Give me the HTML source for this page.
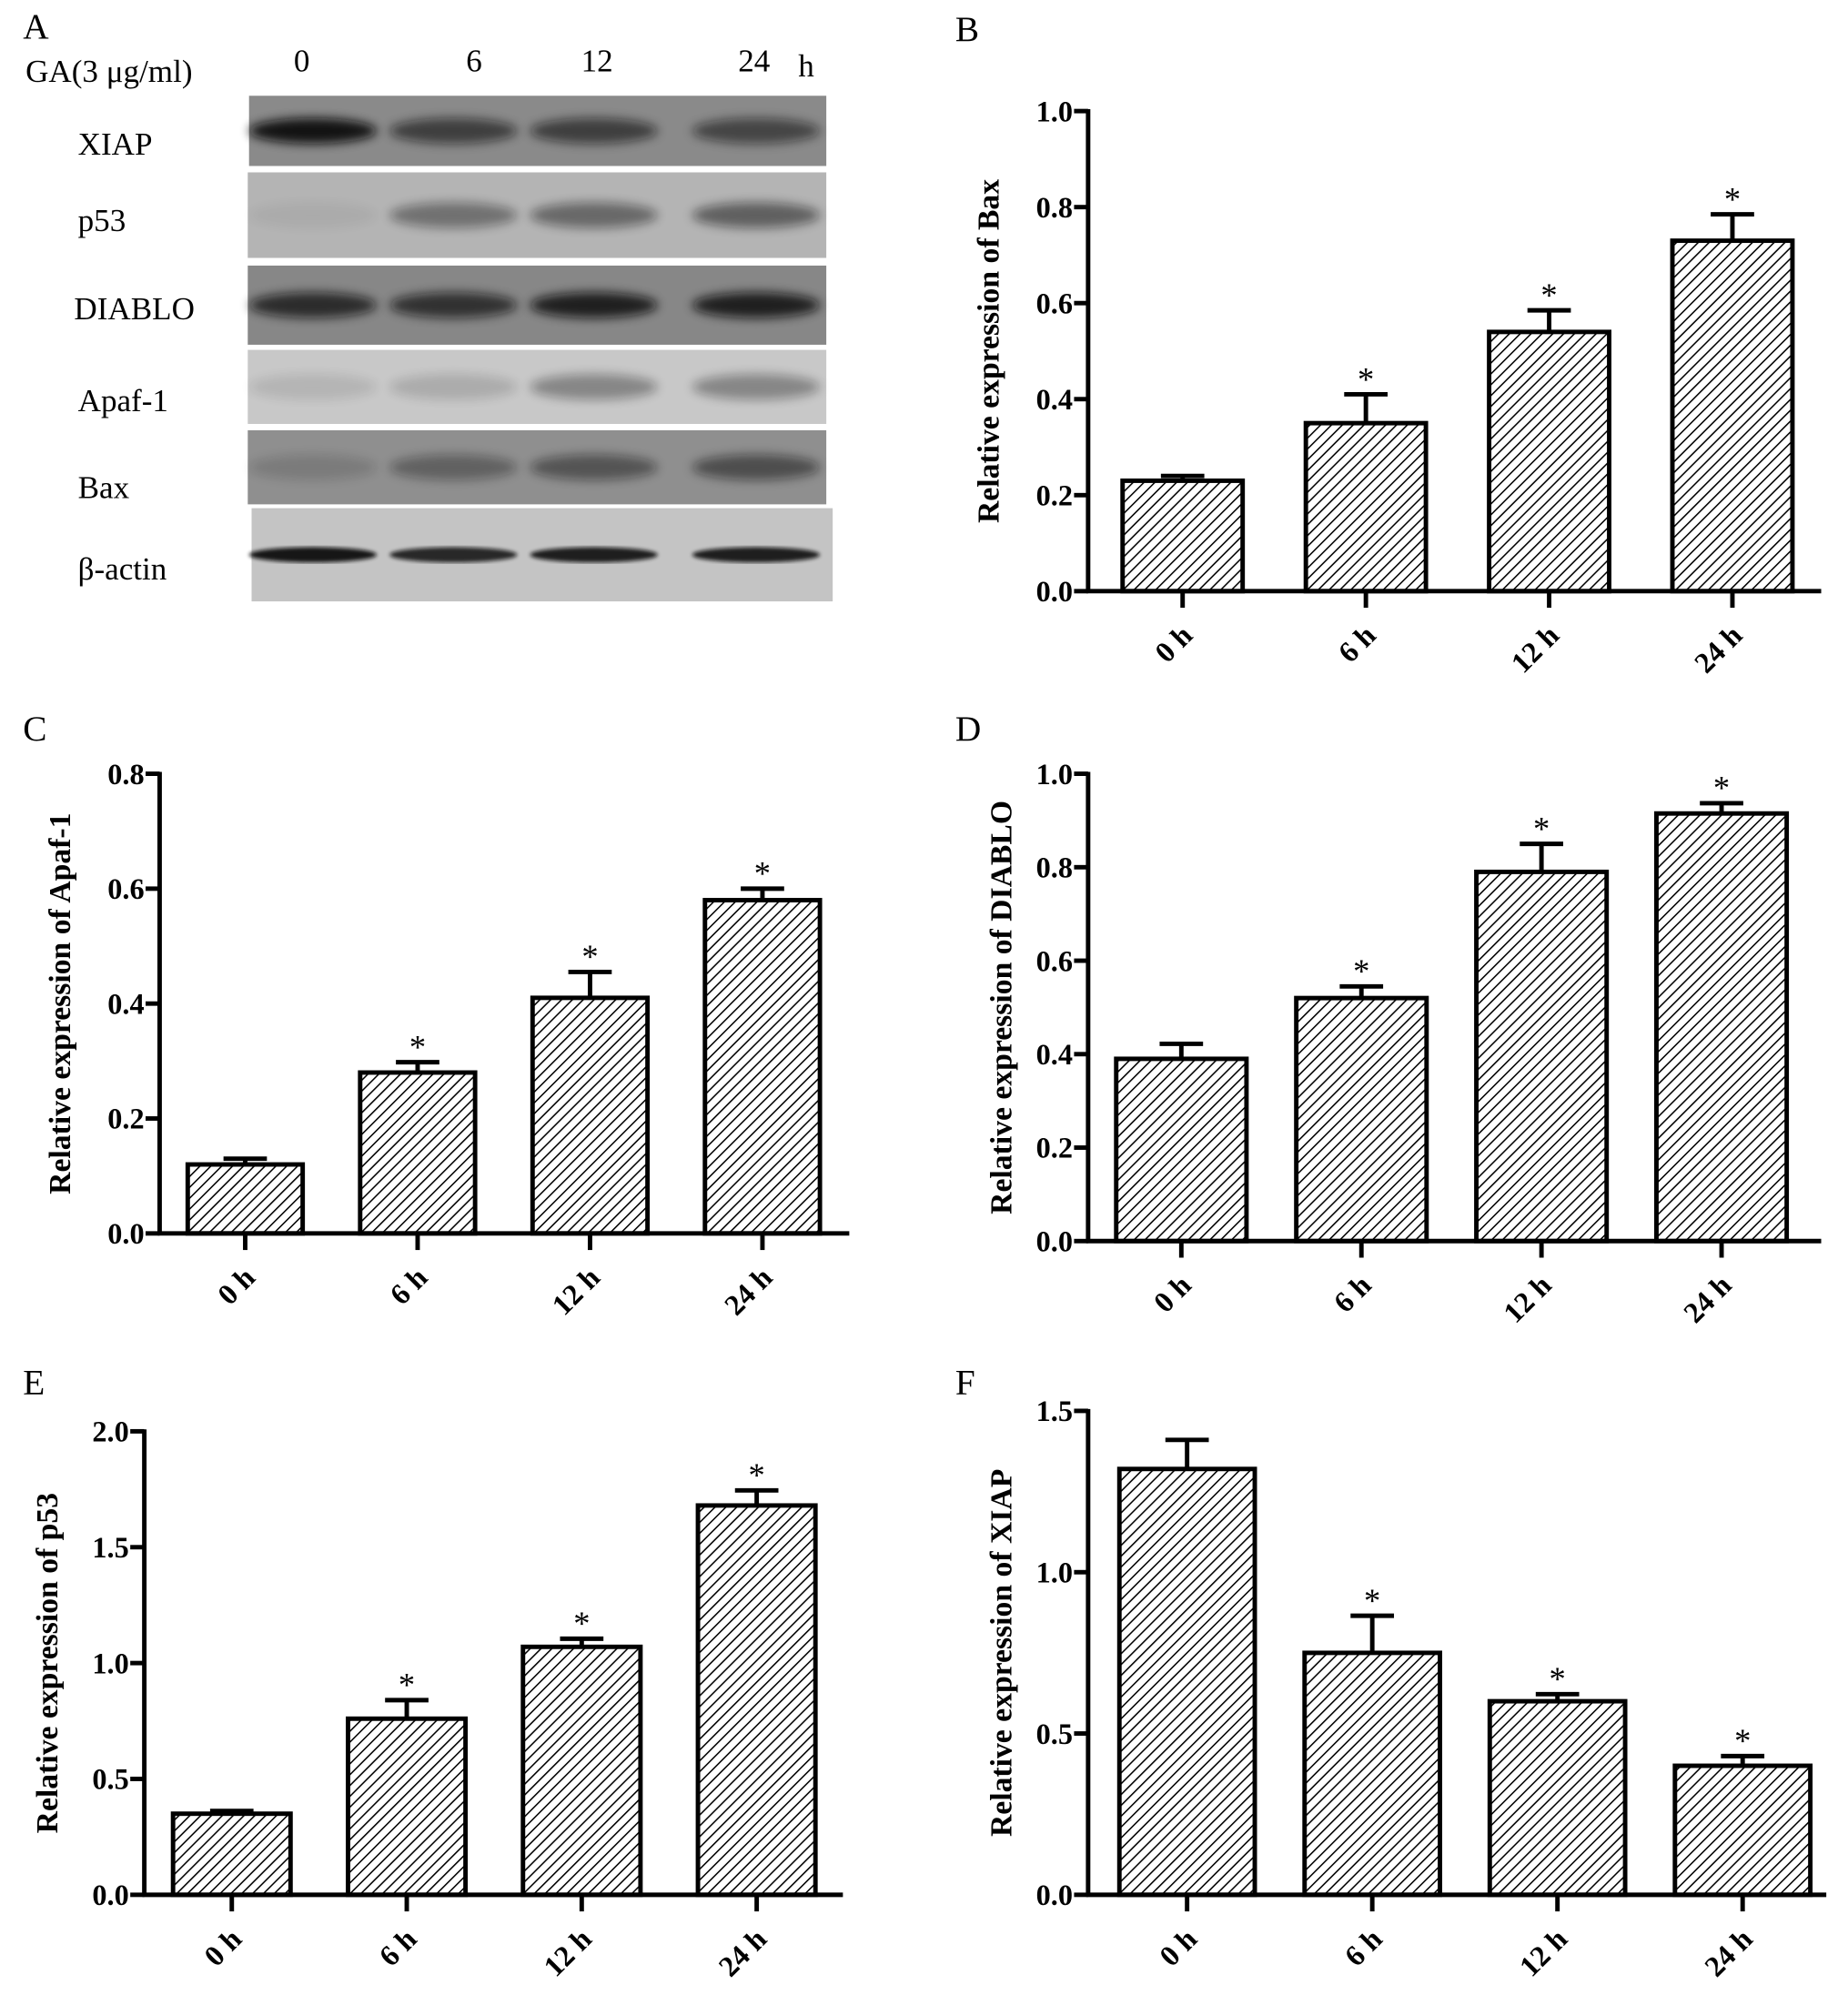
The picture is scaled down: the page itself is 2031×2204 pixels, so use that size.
<!DOCTYPE html>
<html><head><meta charset="utf-8"><style>
html,body{margin:0;padding:0;background:#fff;}
svg{display:block;}
text{font-family:"Liberation Serif",serif;fill:#000;}
</style></head><body>
<svg id="fig" width="2031" height="2204" viewBox="0 0 1447 1570.3" preserveAspectRatio="none" xmlns="http://www.w3.org/2000/svg">
<defs>
<pattern id="hatch" patternUnits="userSpaceOnUse" width="6" height="6" patternTransform="rotate(45)">
<rect width="6" height="6" fill="#fff"/><line x1="0" y1="0" x2="0" y2="6" stroke="#000" stroke-width="2.2"/>
</pattern>
<filter id="blur" x="-20%" y="-50%" width="140%" height="200%"><feGaussianBlur stdDeviation="4"/></filter>
<filter id="blur2"><feGaussianBlur stdDeviation="1.5"/></filter>
</defs>
<g id="blot"></g>
<g id="charts"></g>
</svg>
<script>
const NS="http://www.w3.org/2000/svg";
function mk(parent,tag,attrs,text){const e=document.createElementNS(NS,tag);for(const k in attrs)e.setAttribute(k,attrs[k]);if(text!==undefined)e.textContent=text;parent.appendChild(e);return e;}

// ===== Chart data =====
const categories=["0 h","6 h","12 h","24 h"];
const baxValues=[0.23,0.35,0.54,0.73];
const baxErrors=[0.01,0.06,0.045,0.055];
const baxTicks=[0,0.2,0.4,0.6,0.8,1.0];
const apafValues=[0.12,0.28,0.41,0.58];
const apafErrors=[0.01,0.018,0.045,0.02];
const apafTicks=[0,0.2,0.4,0.6,0.8];
const diabloValues=[0.39,0.52,0.79,0.915];
const diabloErrors=[0.032,0.025,0.06,0.022];
const diabloTicks=[0,0.2,0.4,0.6,0.8,1.0];
const p53Values=[0.35,0.76,1.07,1.68];
const p53Errors=[0.012,0.08,0.035,0.065];
const p53Ticks=[0,0.5,1.0,1.5,2.0];
const xiapValues=[1.32,0.75,0.60,0.40];
const xiapErrors=[0.09,0.115,0.022,0.03];
const xiapTicks=[0,0.5,1.0,1.5];
const significant=[false,true,true,true];
const xiapSignificant=[false,true,true,true];

const charts=[
 {id:"bax",letter:"B",lx:748,ly:32,title:"Relative expression of Bax",values:baxValues,errors:baxErrors,ticks:baxTicks,sig:significant,
  ax:852,top:87,bottom:463,xend:1426,bar0:926,step:143.5,bw:94,tx:782},
 {id:"apaf",letter:"C",lx:18,ly:580,title:"Relative expression of Apaf-1",values:apafValues,errors:apafErrors,ticks:apafTicks,sig:significant,
  ax:125,top:606,bottom:966,xend:665,bar0:192,step:135,bw:90,tx:55},
 {id:"diablo",letter:"D",lx:748,ly:580,title:"Relative expression of DIABLO",values:diabloValues,errors:diabloErrors,ticks:diabloTicks,sig:significant,
  ax:852,top:606,bottom:972,xend:1426,bar0:925,step:141,bw:102,tx:792},
 {id:"p53",letter:"E",lx:18,ly:1092,title:"Relative expression of p53",values:p53Values,errors:p53Errors,ticks:p53Ticks,sig:significant,
  ax:113,top:1121,bottom:1484,xend:660,bar0:181.5,step:137,bw:92,tx:45},
 {id:"xiap",letter:"F",lx:748,ly:1092,title:"Relative expression of XIAP",values:xiapValues,errors:xiapErrors,ticks:xiapTicks,sig:xiapSignificant,
  ax:852,top:1105,bottom:1484,xend:1430,bar0:929.5,step:145,bw:106,tx:792}
];

const root=document.getElementById('charts');
charts.forEach(c=>{
 const g=mk(root,'g',{});
 
 
 const maxV=c.ticks[c.ticks.length-1];
 const y=v=>c.bottom-(v/maxV)*(c.bottom-c.top);
 const x=i=>c.bar0+i*c.step;
 const L=mk(g,'text',{x:c.lx,y:c.ly,'font-size':28},c.letter);
 
 
 c.values.forEach((v,i)=>{
  const cx=x(i),top=y(v),et=y(v+c.errors[i]);
  const eb=mk(g,'path',{d:`M${cx} ${top}V${et}M${cx-17} ${et}H${cx+17}`,stroke:'#000','stroke-width':3.5,fill:'none'});
  
  
  const r=mk(g,'rect',{x:cx-c.bw/2,y:top,width:c.bw,height:c.bottom-top,fill:'url(#hatch)',stroke:'#000','stroke-width':3.5});
  
  
  if(c.sig[i]){
   const s=mk(g,'text',{x:cx,y:et-3,'font-size':26,'text-anchor':'middle'},'*');
   
   
  }
  const tk=mk(g,'line',{x1:cx,x2:cx,y1:c.bottom,y2:c.bottom+13,stroke:'#000','stroke-width':3.5});
  
  
  const lb=mk(g,'text',{x:0,y:0,'font-size':23,'font-weight':'bold','text-anchor':'end',transform:`translate(${cx+9},${c.bottom+36}) rotate(-45)`},categories[i]);
  
  
 });
 const axY=mk(g,'line',{x1:c.ax,x2:c.ax,y1:c.top-1.5,y2:c.bottom+1.5,stroke:'#000','stroke-width':3.5});
 
 
 const axX=mk(g,'line',{x1:c.ax-1.5,x2:c.xend,y1:c.bottom,y2:c.bottom,stroke:'#000','stroke-width':3.5});
 
 
 c.ticks.forEach(t=>{
  const ty=y(t);
  const tl=mk(g,'line',{x1:c.ax-11,x2:c.ax,y1:ty,y2:ty,stroke:'#000','stroke-width':3.5});
  
  
  const tt=mk(g,'text',{x:c.ax-12,y:ty+8,'font-size':23,'font-weight':'bold','text-anchor':'end'},t.toFixed(1));
  
  
 });
 const mid=(c.top+c.bottom)/2;
 const yt=mk(g,'text',{x:0,y:0,'font-size':24,'font-weight':'bold','text-anchor':'middle',transform:`translate(${c.tx},${mid}) rotate(-90)`},c.title);
 
 
});

// ===== Western blot =====
const blot=document.getElementById('blot');
const rowNames=["XIAP","p53","DIABLO","Apaf-1","Bax","β-actin"];
const rowBox=[[195,75,452,55,"#8a8a8a"],[194,135,453,67,"#b4b4b4"],[194,208,453,62,"#878787"],[194,274,453,58,"#c8c8c8"],[194,337,453,58,"#8f8f8f"],[197,398,455,73,"#c4c4c4"]];
const labelY=[121,181,250,322,390,454];
const lanes=[245,355,465,592];
const bandIntensity=[[0.95,0.6,0.6,0.55],[0.05,0.4,0.45,0.5],[0.75,0.7,0.85,0.85],[0.1,0.15,0.35,0.35],[0.15,0.35,0.45,0.5],[0.95,0.85,0.9,0.9]];
const lbl=mk(blot,'text',{x:18,y:30,'font-size':28},'A');


const ga=mk(blot,'text',{x:20,y:64,'font-size':25},'GA(3 μg/ml)');


[["0",230],["6",365],["12",455],["24",578],["h",625]].forEach(([t,px])=>{
 const e=mk(blot,'text',{x:px,y:t==="h"?60:56,'font-size':25},t);
 
 
});
rowBox.forEach((b,r)=>{
 const rect=mk(blot,'rect',{x:b[0],y:b[1],width:b[2],height:b[3],fill:b[4]});
 
 
 lanes.forEach((lx,i)=>{
  const a=bandIntensity[r][i];
  const el=mk(blot,'ellipse',{cx:lx,cy:b[1]+b[3]/2,rx:50,ry:r===5?6:10,fill:'#111',opacity:a,filter:r===5?'url(#blur2)':'url(#blur)'});
  
  
 });
 const t=mk(blot,'text',{x:r===2?58:61,y:labelY[r],'font-size':25},rowNames[r]);
 
 
});
</script>
</body></html>
